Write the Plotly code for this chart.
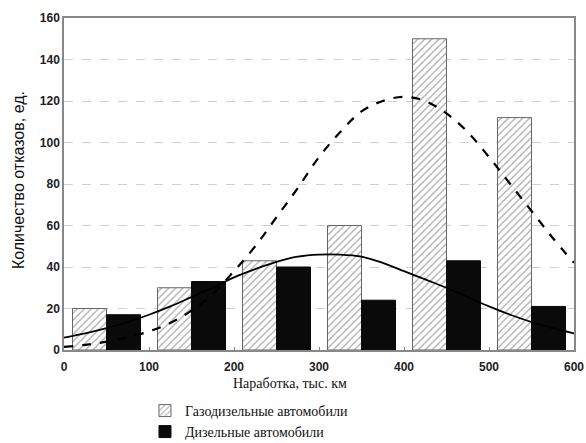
import plotly.graph_objects as go

# Interval centres, thousand km
bin_centres = [50, 150, 250, 350, 450, 550]
gas_diesel_counts = [20, 30, 43, 60, 150, 112]
diesel_counts = [17, 33, 40, 24, 43, 21]

# Fitted curves
curve_x = [0, 25, 50, 75, 100, 125, 150, 175, 200, 225, 250, 275, 300,
           325, 350, 375, 400, 425, 450, 475, 500, 525, 550, 575, 600]
gas_curve = [1.5, 2.5, 4, 6, 9, 13, 19, 27, 38, 50, 64, 78, 93,
             105, 115, 120, 122, 120, 114, 105, 93, 80, 67, 54, 42]
diesel_curve = [6, 8, 10.5, 13.5, 17, 21, 25.5, 30, 35, 39, 42.5, 45, 46,
                46, 45, 42, 38, 34, 30, 25.5, 21, 17, 13.5, 10.5, 8]

x_ticks = [0, 100, 200, 300, 400, 500, 600]
y_ticks = [0, 20, 40, 60, 80, 100, 120, 140, 160]

legend_font = dict(family="Liberation Serif", size=14, color="#111")

fig = go.Figure()
fig.add_trace(go.Bar(
    x=bin_centres, y=gas_diesel_counts, name="Газодизельные автомобили",
    legend="legend",
    marker=dict(color="white", line=dict(color="#666", width=1),
                pattern=dict(shape="/", fgcolor="#555", bgcolor="white",
                             size=5, solidity=0.25)),
))
fig.add_trace(go.Bar(
    x=bin_centres, y=diesel_counts, name="Дизельные автомобили",
    legend="legend2",
    marker=dict(color="#0a0a0a", line=dict(color="#0a0a0a", width=1)),
))
fig.add_trace(go.Scatter(
    x=curve_x, y=gas_curve, mode="lines", showlegend=False,
    line=dict(color="black", width=2.2, dash="dash", shape="spline"),
))
fig.add_trace(go.Scatter(
    x=curve_x, y=diesel_curve, mode="lines", showlegend=False,
    line=dict(color="black", width=1.8, shape="spline"),
))

fig.update_layout(
    width=586, height=443,
    margin=dict(l=64, r=12, t=18, b=93, autoexpand=False),
    paper_bgcolor="white", plot_bgcolor="white",
    barmode="group", bargap=0.2, bargroupgap=0,
    legend=dict(xref="container", yref="container", x=0.2474, y=0.1084,
                xanchor="left", yanchor="top",
                font=legend_font, bgcolor="rgba(0,0,0,0)"),
    legend2=dict(xref="container", yref="container", x=0.2474, y=0.061,
                 xanchor="left", yanchor="top",
                 font=legend_font, bgcolor="rgba(0,0,0,0)"),
    font=dict(family="Liberation Sans"),
    annotations=[
        dict(text="Наработка, тыс. км", xref="paper", yref="paper",
             x=0.443, y=-0.1, xanchor="center", yanchor="middle",
             showarrow=False,
             font=dict(family="Liberation Serif", size=14, color="#111")),
        dict(text="Количество отказов, ед.", xref="paper", yref="paper",
             x=-0.09, y=0.512, xanchor="center", yanchor="middle",
             textangle=-90, showarrow=False,
             font=dict(family="Liberation Sans", size=16, color="#111")),
    ],
)
fig.update_xaxes(
    range=[0, 600], tickvals=x_ticks, ticktext=[str(v) for v in x_ticks],
    showgrid=False, zeroline=False,
    showline=True, mirror=True, linecolor="#888", linewidth=1.5,
    ticks="inside", ticklen=3, tickcolor="#888", ticklabelstandoff=5,
    tickfont=dict(family="Liberation Sans", size=12, color="#222", weight="bold"),
)
fig.update_yaxes(
    range=[0, 160], tickvals=y_ticks, ticktext=[str(v) for v in y_ticks],
    showgrid=True, gridcolor="#cfcfcf", griddash="dash", gridwidth=1,
    zeroline=False,
    showline=True, mirror=True, linecolor="#888", linewidth=1.5,
    ticks="",
    tickfont=dict(family="Liberation Sans", size=12, color="#222", weight="bold"),
)

fig.write_html("out.html")
